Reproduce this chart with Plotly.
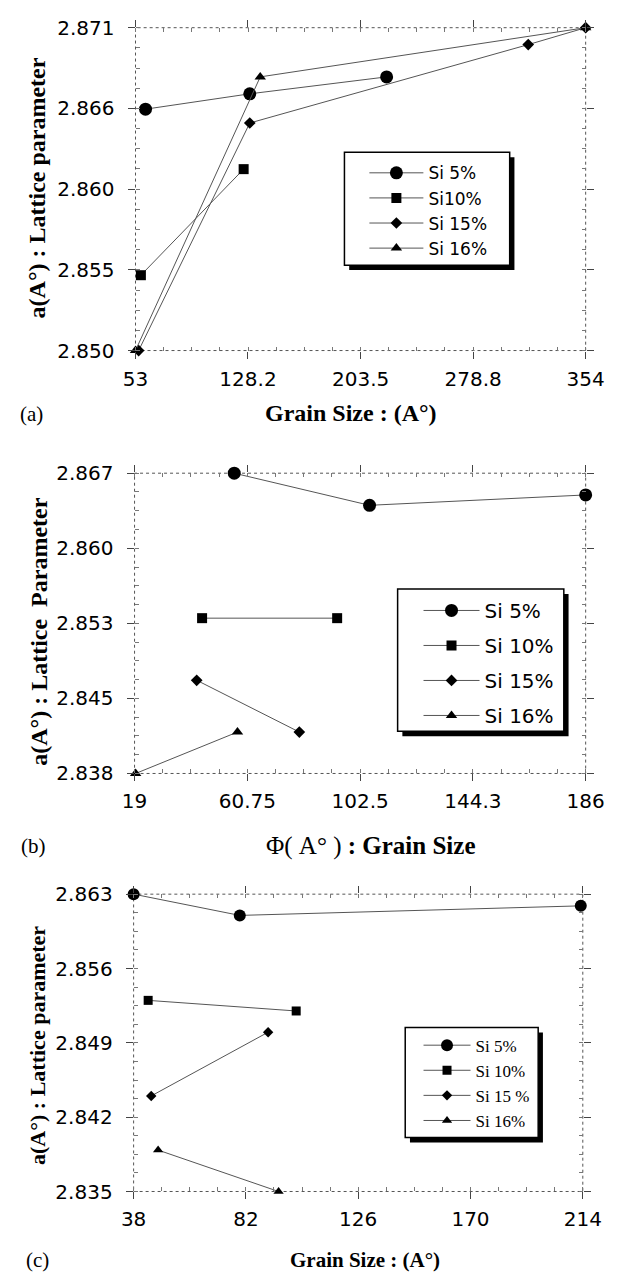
import plotly.graph_objects as go

W, H = 636, 1282

# ---------------- data ----------------
series_names = ["Si 5%", "Si10%", "Si 15%", "Si 16%"]
series_names_b = ["Si 5%", "Si 10%", "Si 15%", "Si 16%"]
series_names_c = ["Si 5%", "Si 10%", "Si 15 %", "Si 16%"]
symbols = ["circle", "square", "diamond", "triangle-up"]
msizes = [13, 10, 9, 10]

# Panel (a)
a_xticks = [53, 128.2, 203.5, 278.8, 354]
a_yticks = [2.850, 2.85525, 2.8605, 2.86575, 2.871]
a_yticklabels = ["2.850", "2.855", "2.860", "2.866", "2.871"]
a_si5_x = [59.7, 129.4, 220.9]
a_si5_y = [2.8657, 2.8667, 2.8678]
a_si10_x = [56.6, 125.3]
a_si10_y = [2.8549, 2.8618]
a_si15_x = [55.1, 129.4, 315.6, 354]
a_si15_y = [2.8500, 2.8648, 2.8699, 2.871]
a_si16_x = [53, 136.4, 354]
a_si16_y = [2.8500, 2.8678, 2.871]

# Panel (b)
b_xticks = [19, 60.75, 102.5, 144.25, 186]
b_xticklabels = ["19", "60.75", "102.5", "144.3", "186"]
b_yticks = [2.838, 2.84525, 2.8525, 2.85975, 2.867]
b_yticklabels = ["2.838", "2.845", "2.853", "2.860", "2.867"]
b_si5_x = [55.9, 106.0, 186]
b_si5_y = [2.867, 2.8639, 2.8649]
b_si10_x = [44.0, 94.0]
b_si10_y = [2.8530, 2.8530]
b_si15_x = [42.0, 80.0]
b_si15_y = [2.8470, 2.8420]
b_si16_x = [19.4, 57.1]
b_si16_y = [2.8380, 2.8420]

# Panel (c)
c_xticks = [38, 82, 126, 170, 214]
c_yticks = [2.835, 2.842, 2.849, 2.856, 2.863]
c_yticklabels = ["2.835", "2.842", "2.849", "2.856", "2.863"]
c_si5_x = [38, 79.6, 213.2]
c_si5_y = [2.863, 2.8610, 2.8619]
c_si10_x = [43.7, 101.7]
c_si10_y = [2.8530, 2.8520]
c_si15_x = [44.9, 90.7]
c_si15_y = [2.8440, 2.8500]
c_si16_x = [47.6, 94.8]
c_si16_y = [2.8389, 2.8350]

# ---------------- helpers ----------------
def px(x):
    return x / W

def py(y):
    return 1 - y / H

LINE_COL = "#555555"
SANS = "DejaVu Sans"
SERIF = "Liberation Serif"

fig = go.Figure()

panels = [
    dict(xs=[a_si5_x, a_si10_x, a_si15_x, a_si16_x],
         ys=[a_si5_y, a_si10_y, a_si15_y, a_si16_y],
         names=series_names, xa="x", ya="y", legend="legend"),
    dict(xs=[b_si5_x, b_si10_x, b_si15_x, b_si16_x],
         ys=[b_si5_y, b_si10_y, b_si15_y, b_si16_y],
         names=series_names_b, xa="x2", ya="y2", legend="legend2"),
    dict(xs=[c_si5_x, c_si10_x, c_si15_x, c_si16_x],
         ys=[c_si5_y, c_si10_y, c_si15_y, c_si16_y],
         names=series_names_c, xa="x3", ya="y3", legend="legend3"),
]

for pi, p in enumerate(panels):
    for i in range(4):
        kw = {}
        if pi == 1:
            kw["legendgroup"] = f"b{i}"
        fig.add_trace(go.Scatter(
            x=p["xs"][i], y=p["ys"][i], name=p["names"][i],
            mode="lines+markers",
            line=dict(color=LINE_COL, width=1),
            marker=dict(symbol=symbols[i],
                        size=msizes[i] - (1 if pi == 2 else 0),
                        color="black", line=dict(width=0)),
            xaxis=p["xa"], yaxis=p["ya"], legend=p["legend"],
            cliponaxis=False, hoverinfo="skip", **kw))

# ---------------- axes ----------------
boxes = {
    "a": (129, 603, 16, 345),
    "b": (128, 603, 470, 776),
    "c": (127, 600, 899, 1202),
}

tickfont = dict(family=SANS, size=20, color="black")

def xaxis_cfg(box, rng, tv, tt, dt):
    x0, x1, y0, y1 = box
    return dict(domain=[px(x0), px(x1)], range=rng, tickmode="array",
                tickvals=tv, ticktext=tt, showgrid=False, zeroline=False,
                showline=True, linecolor="rgba(0,0,0,0)", mirror="ticks",
                ticks="outside", ticklen=7, tickcolor="#444", tickwidth=1,
                ticklabelstandoff=3, tickfont=tickfont,
                minor=dict(ticks="inside", ticklen=4, tickcolor="#777",
                           tickmode="linear", tick0=rng[0], dtick=dt, showgrid=False),
                fixedrange=True)

def yaxis_cfg(box, rng, tv, tt, dt):
    x0, x1, y0, y1 = box
    return dict(domain=[py(y1), py(y0)], range=rng, tickmode="array",
                tickvals=tv, ticktext=tt, showgrid=False, zeroline=False,
                showline=True, linecolor="rgba(0,0,0,0)", mirror="ticks",
                ticks="outside", ticklen=7, tickcolor="#444", tickwidth=1,
                ticklabelstandoff=9, tickfont=tickfont,
                minor=dict(ticks="inside", ticklen=4, tickcolor="#777",
                           tickmode="linear", tick0=rng[0], dtick=dt, showgrid=False),
                fixedrange=True)

fig.update_layout(
    xaxis=xaxis_cfg(boxes["a"], [53, 354], a_xticks, [str(v) for v in a_xticks], 75.25 / 4),
    yaxis=yaxis_cfg(boxes["a"], [2.850, 2.871], a_yticks, a_yticklabels, 0.00525 / 4),
    xaxis2=xaxis_cfg(boxes["b"], [19, 186], b_xticks, b_xticklabels, 41.75 / 4),
    yaxis2=yaxis_cfg(boxes["b"], [2.838, 2.867], b_yticks, b_yticklabels, 0.00725 / 4),
    xaxis3=xaxis_cfg(boxes["c"], [38, 214], c_xticks, [str(v) for v in c_xticks], 44 / 4),
    yaxis3=yaxis_cfg(boxes["c"], [2.835, 2.863], c_yticks, c_yticklabels, 0.007 / 4),
)
fig.layout.xaxis2.anchor = "y2"
fig.layout.yaxis2.anchor = "x2"
fig.layout.xaxis3.anchor = "y3"
fig.layout.yaxis3.anchor = "x3"

shapes = []
# dotted frames
for k, (x0, x1, y0, y1) in boxes.items():
    shapes.append(dict(type="rect", xref="paper", yref="paper",
                       x0=px(x0), x1=px(x1), y0=py(y1), y1=py(y0),
                       line=dict(color="#555", width=1, dash="dot"),
                       fillcolor="rgba(0,0,0,0)", layer="below"))

# legend boxes with shadow
leg_boxes = [(349, 523, 143, 258), (405, 580, 588, 733), (413, 553, 1035, 1147)]
for (x0, x1, y0, y1) in leg_boxes:
    shapes.append(dict(type="rect", xref="paper", yref="paper",
                       x0=px(x0 + 5), x1=px(x1 + 5), y0=py(y1 + 5), y1=py(y0 + 5),
                       line=dict(width=0), fillcolor="black", layer="above"))
    shapes.append(dict(type="rect", xref="paper", yref="paper",
                       x0=px(x0), x1=px(x1), y0=py(y1), y1=py(y0),
                       line=dict(width=1.5, color="black"), fillcolor="white", layer="above"))
fig.update_layout(shapes=shapes)

fig.update_layout(
    legend=dict(x=px(370), y=py(146), xanchor="left", yanchor="top",
                bgcolor="rgba(0,0,0,0)", borderwidth=0, itemwidth=54,
                font=dict(family=SANS, size=17, color="black")),
    legend2=dict(x=px(427), y=py(590), xanchor="left", yanchor="top",
                 bgcolor="rgba(0,0,0,0)", borderwidth=0, itemwidth=56,
                 tracegroupgap=6,
                 font=dict(family=SANS, size=20, color="black")),
    legend3=dict(x=px(427), y=py(1035), xanchor="left", yanchor="top",
                 bgcolor="rgba(0,0,0,0)", borderwidth=0, itemwidth=47,
                 font=dict(family=SERIF, size=17, color="black")),
)

# ---------------- text ----------------
ann = []
def add_text(text, x, y, size, family=SERIF, angle=0):
    ann.append(dict(text=text, x=px(x), y=py(y), xref="paper", yref="paper",
                    showarrow=False, textangle=angle, xanchor="center", yanchor="middle",
                    font=dict(family=family, size=size, color="black")))

add_text("<b>a(A°) : Lattice parameter</b>", 25, 179, 24, angle=-90)
add_text("<b>Grain Size : (A°)</b>", 356, 409, 24)
add_text("(a)", 20, 410, 21)

add_text("<b>a(A°) : Lattice  Parameter</b>", 28, 632, 24, angle=-90)
add_text("Φ( A° ) <b>: Grain Size</b>", 377, 850, 25)
add_text("(b)", 22, 850, 21)

add_text("<b>a(A°) : Lattice parameter</b>", 26, 1053, 22, angle=-90)
add_text("<b>Grain Size : (A°)</b>", 371, 1272, 21)
add_text("(c)", 26, 1272, 21)

fig.update_layout(annotations=ann, width=W, height=H,
                  margin=dict(l=0, r=0, t=0, b=0),
                  paper_bgcolor="white", plot_bgcolor="white",
                  showlegend=True, hovermode=False)

fig.write_html("out.html",
               config={"displayModeBar": False, "staticPlot": True},
               post_script="document.body.style.margin='0';document.body.style.overflow='hidden';")
